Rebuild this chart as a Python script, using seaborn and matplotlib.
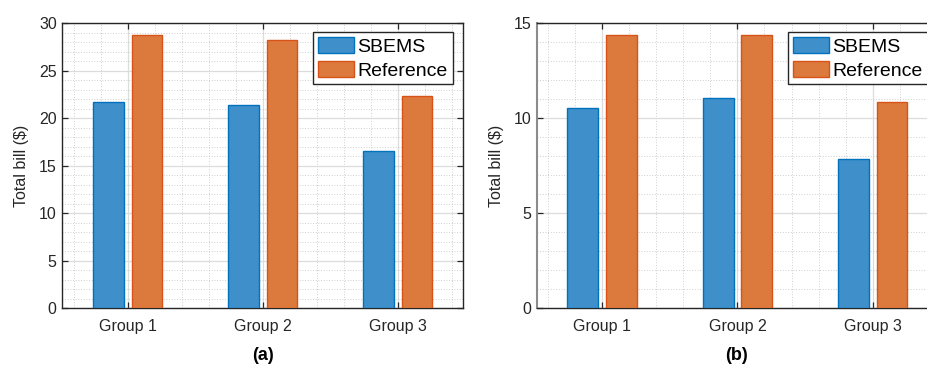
import numpy as np
import pandas as pd
import seaborn as sns
import matplotlib
matplotlib.use("Agg")
import matplotlib.pyplot as plt
from matplotlib.ticker import MultipleLocator
from matplotlib.patches import Patch

# Data
groups = ["Group 1", "Group 2", "Group 3"]
methods = ["SBEMS", "Reference"]
bill_a_sbems = [21.7, 21.4, 16.5]
bill_a_ref = [28.8, 28.2, 22.3]
bill_b_sbems = [10.55, 11.07, 7.84]
bill_b_ref = [14.4, 14.4, 10.84]
panel_labels = ["(a)", "(b)"]

face_colors = ["#3F8FCB", "#DC7A3D"]
edge_colors = ["#0072BD", "#D95319"]
text_col = "#262626"

sns.set_theme(style="white")
plt.rcParams["font.family"] = ["Liberation Sans", "DejaVu Sans"]


def make_frame(sbems, ref):
    return pd.DataFrame({
        "group": groups * 2,
        "method": [methods[0]] * 3 + [methods[1]] * 3,
        "bill": list(sbems) + list(ref),
    })


fig = plt.figure(figsize=(9.27, 3.65), dpi=100)
W, H = 927, 365
ax_a = fig.add_axes([62.3 / W, 1 - 308 / H, 400.4 / W, 284.7 / H])
ax_b = fig.add_axes([536.7 / W, 1 - 308 / H, 401 / W, 284.7 / H])

panels = [
    (ax_a, make_frame(bill_a_sbems, bill_a_ref), 30),
    (ax_b, make_frame(bill_b_sbems, bill_b_ref), 15),
]

for ax, df, ymax in panels:
    sns.barplot(data=df, x="group", y="bill", hue="method",
                order=groups, hue_order=methods,
                palette=face_colors, width=0.571, gap=0.2,
                saturation=1, errorbar=None, legend=False, ax=ax,
                zorder=3)
    for cont, ec in zip(ax.containers, edge_colors):
        for bar in cont:
            bar.set_edgecolor(ec)
            bar.set_linewidth(1.0)

    ax.set_xlim(-0.484, 2.481)
    ax.set_ylim(0, ymax)
    ax.yaxis.set_major_locator(MultipleLocator(5))
    ax.yaxis.set_minor_locator(MultipleLocator(1))
    ax.xaxis.set_minor_locator(MultipleLocator(0.2))

    ax.set_axisbelow(True)
    ax.grid(which="major", color="#DCDCDC", linewidth=0.9, linestyle="-")
    ax.grid(which="minor", color="#BDBDBD", linewidth=0.6, linestyle=(0, (1, 2.2)))

    ax.tick_params(which="major", direction="in", length=4, width=0.9,
                   color=text_col, top=True, right=True, bottom=True, left=True,
                   labelsize=11.5, labelcolor=text_col)
    ax.tick_params(axis="x", which="major", pad=8)
    ax.tick_params(axis="y", which="major", pad=4)
    ax.tick_params(which="minor", length=0)

    for sp in ax.spines.values():
        sp.set_visible(True)
        sp.set_color(text_col)
        sp.set_linewidth(1.0)

    ax.set_xlabel("")
    ax.set_ylabel("Total bill ($)", fontsize=11.5, color=text_col, labelpad=7)

    handles = [Patch(facecolor=fc, edgecolor=ec, linewidth=1.0)
               for fc, ec in zip(face_colors, edge_colors)]
    leg = ax.legend(handles, methods, loc="upper right",
                    bbox_to_anchor=(1 - 10 / 401, 1 - 9 / 284.7),
                    borderaxespad=0, fontsize=14, frameon=True, fancybox=False,
                    edgecolor=text_col, framealpha=1, handlelength=1.85,
                    handleheight=0.9, handletextpad=0.2, borderpad=0.25,
                    labelspacing=0.25)
    leg.get_frame().set_linewidth(1.0)
    for t in leg.get_texts():
        t.set_color("black")

ax_b.spines["left"].set_color("#8C8C8C")
ax_b.spines["left"].set_linewidth(1.5)

fig.text(263 / W, 1 - 355 / H, panel_labels[0], ha="center", va="center",
         fontsize=13, fontweight="bold", color="black")
fig.text(737 / W, 1 - 355.5 / H, panel_labels[1], ha="center", va="center",
         fontsize=13, fontweight="bold", color="black")

fig.savefig("out.png", dpi=100)
